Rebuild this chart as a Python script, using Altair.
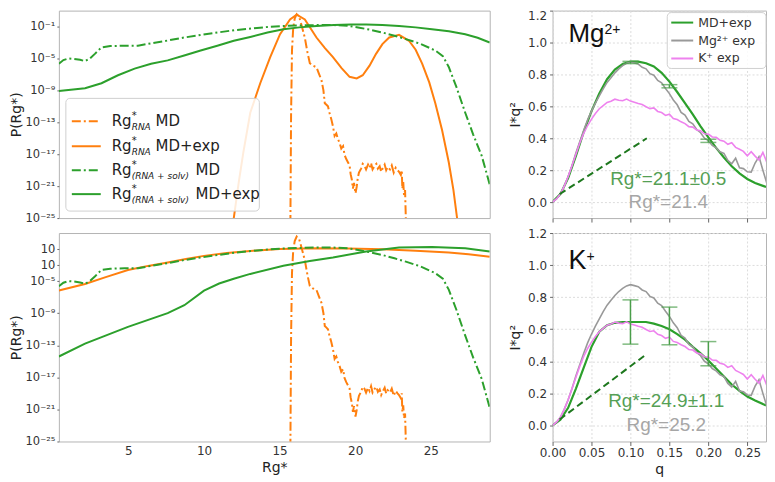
import altair as alt
import pandas as pd

# ---------------- Left panels: P(Rg*) (values stored as log10 P) ----------------
# MD only (same in both panels)
rna_md_x = [15.70, 15.76, 15.82, 15.9, 16.0, 16.13, 16.3, 16.45, 16.67, 16.85, 17.0, 17.2, 17.44, 17.6,
            17.77, 17.9, 17.99, 18.1, 18.2, 18.3, 18.42, 18.53, 18.64, 18.75, 18.86, 18.97, 19.08, 19.2,
            19.3, 19.41, 19.52, 19.63, 19.7, 19.78, 19.85, 19.92, 20.02, 20.1, 20.17, 20.25, 20.39, 20.5,
            20.61, 20.72, 20.85, 20.95, 21.05, 21.15, 21.3, 21.4, 21.5, 21.62, 21.72, 21.81, 21.95, 22.05,
            22.15, 22.3, 22.42, 22.55, 22.68, 22.8, 22.9, 23.02, 23.08, 23.12, 23.18, 23.23, 23.3, 23.35, 23.42]
rna_md_log = [-30, -12, -4, -1.2, 0.0, 0.55, 0.2, -0.8, -2.4, -4.3, -5.6, -5.9, -6.1, -6.9, -7.7, -9.0,
              -10.6, -10.8, -11.0, -11.8, -12.6, -13.5, -14.7, -14.4, -15.1, -15.6, -16.3, -16.0, -17.1,
              -17.6, -18.0, -18.4, -19.5, -20.2, -21.3, -20.6, -21.9, -21.1, -20.0, -19.3, -18.8, -18.2,
              -18.4, -18.9, -18.3, -18.7, -18.1, -18.9, -18.4, -18.2, -18.8, -18.5, -19.2, -18.8, -18.3,
              -19.0, -18.6, -18.9, -18.4, -19.3, -18.7, -19.0, -19.2, -19.6, -19.0, -21.3, -20.5, -22.1,
              -21.5, -25, -30]
solv_md_x = [0.4, 0.7, 1.04, 1.4, 1.8, 2.13, 2.45, 2.78, 3.22, 3.8, 4.75, 5.63, 6.5, 7.6, 8.69, 9.8,
             10.88, 12.0, 13.28, 14.2, 15.25, 16.5, 17.5, 18.53, 19.5, 20.28, 21.0, 21.81, 22.6, 23.35,
             24.3, 25.3, 25.8, 26.19, 26.7, 27.28, 27.8, 28.37, 28.9]
solv_md_log = [-5.65, -5.2, -5.0, -5.05, -5.16, -5.33, -5.0, -4.42, -3.6, -3.45, -3.4, -3.4, -3.1, -2.75,
               -2.37, -2.05, -1.75, -1.45, -1.22, -1.05, -0.93, -0.85, -0.81, -0.81, -0.9, -1.14, -1.4,
               -1.75, -2.15, -2.57, -3.15, -4.0, -4.7, -6.06, -8.6, -11.8, -14.5, -17.2, -20.8]
# MD+exp, Mg2+ (top)
rna_mg_x = [11.97, 12.3, 12.6, 13.06, 13.72, 14.38, 15.03, 15.69, 16.13, 16.67, 17.44, 18.0, 18.53, 19.1,
            19.63, 20.1, 20.5, 20.95, 21.38, 21.8, 22.25, 22.9, 23.56, 24.0, 24.43, 24.9, 25.3, 25.75,
            26.19, 26.5, 26.74]
rna_mg_log = [-25, -20.5, -16.8, -11.8, -8.1, -4.83, -1.96, -0.1, 0.5, -0.1, -2.37, -3.7, -4.83, -6.2,
              -7.3, -7.5, -7.1, -5.9, -4.42, -3.2, -2.37, -2.04, -2.78, -3.9, -5.65, -8.0, -10.6, -14.0,
              -18.0, -21.5, -25]
solv_mg_x = [0.4, 2.13, 3.22, 4.31, 5.41, 6.5, 7.6, 8.69, 9.78, 10.88, 11.97, 13.06, 14.2, 15.25, 16.3,
             17.44, 18.6, 19.7, 20.72, 21.8, 22.9, 24.0, 25.08, 26.2, 27.28, 28.1, 28.9]
solv_mg_log = [-9.07, -8.73, -8.1, -7.1, -6.27, -5.65, -5.24, -4.63, -4.0, -3.4, -2.78, -2.3, -1.75, -1.34,
               -1.1, -0.93, -0.8, -0.74, -0.73, -0.8, -0.93, -1.1, -1.34, -1.6, -1.96, -2.4, -3.0]
# MD+exp, K+ (bottom)
rna_k_x = [0.4, 2.13, 3.5, 4.97, 6.3, 7.6, 8.8, 10.0, 11.5, 13.06, 15.0, 17.44, 19.5, 21.81, 24.0, 26.19,
           27.5, 28.9]
rna_k_log = [-6.18, -5.35, -4.5, -3.62, -3.1, -2.67, -2.25, -1.85, -1.5, -1.23, -1.0, -0.9, -0.93, -1.02,
             -1.2, -1.44, -1.65, -1.95]
solv_k_x = [0.4, 2.13, 4.97, 7.6, 8.7, 10.0, 11.0, 11.97, 13.06, 15.25, 17.0, 18.53, 20.72, 22.9, 25.08,
            27.28, 28.9]
solv_k_log = [-14.4, -12.8, -10.7, -9.0, -8.0, -6.18, -5.3, -4.7, -4.1, -3.08, -2.5, -2.05, -1.3, -0.82,
              -0.73, -0.9, -1.3]

# ---------------- Right panels: Kratky plots ----------------
exp_q = [0.0, 0.005, 0.01, 0.015, 0.02, 0.025, 0.03, 0.035, 0.04, 0.045, 0.05, 0.055, 0.06, 0.065, 0.07,
         0.075, 0.08, 0.085, 0.09, 0.095, 0.1, 0.105, 0.11, 0.115, 0.12, 0.125, 0.13, 0.135, 0.14, 0.145,
         0.15, 0.155, 0.16, 0.165, 0.17, 0.175, 0.18, 0.185, 0.19, 0.195, 0.2, 0.205, 0.21, 0.215, 0.22,
         0.225, 0.23, 0.235, 0.24, 0.245, 0.25, 0.255, 0.26, 0.265, 0.27, 0.275]
mg_exp = [0.0, 0.02, 0.05, 0.1, 0.16, 0.23, 0.31, 0.38, 0.45, 0.515, 0.57, 0.62, 0.665, 0.71, 0.75, 0.78,
          0.81, 0.835, 0.855, 0.87, 0.878, 0.872, 0.865, 0.845, 0.835, 0.805, 0.795, 0.762, 0.748, 0.712,
          0.68, 0.64, 0.61, 0.562, 0.545, 0.505, 0.49, 0.455, 0.435, 0.4, 0.385, 0.355, 0.34, 0.315, 0.305,
          0.262, 0.24, 0.275, 0.215, 0.21, 0.19, 0.188, 0.245, 0.285, 0.2, 0.12]
k_exp = [0.0, 0.02, 0.05, 0.1, 0.16, 0.23, 0.3, 0.37, 0.43, 0.48, 0.52, 0.555, 0.585, 0.605, 0.625, 0.632,
         0.645, 0.638, 0.635, 0.646, 0.633, 0.626, 0.618, 0.612, 0.598, 0.586, 0.59, 0.568, 0.561, 0.543,
         0.551, 0.524, 0.517, 0.503, 0.492, 0.473, 0.47, 0.452, 0.447, 0.428, 0.426, 0.408, 0.406, 0.388,
         0.382, 0.362, 0.372, 0.343, 0.331, 0.318, 0.29, 0.316, 0.288, 0.264, 0.312, 0.25]
fit_q = [0.0, 0.01, 0.02, 0.03, 0.04, 0.05, 0.06, 0.07, 0.08, 0.09, 0.1, 0.11, 0.12, 0.13, 0.14, 0.15,
         0.16, 0.17, 0.18, 0.19, 0.2, 0.21, 0.22, 0.23, 0.24, 0.25, 0.26, 0.274]
mg_fit = [0.0, 0.05, 0.15, 0.29, 0.44, 0.57, 0.68, 0.77, 0.83, 0.865, 0.88, 0.88, 0.87, 0.85, 0.81, 0.755,
          0.69, 0.62, 0.55, 0.475, 0.405, 0.34, 0.28, 0.225, 0.18, 0.145, 0.12, 0.095]
k_fit = [0.0, 0.035, 0.11, 0.23, 0.36, 0.49, 0.585, 0.625, 0.64, 0.645, 0.645, 0.645, 0.645, 0.635, 0.62,
         0.6, 0.57, 0.535, 0.49, 0.45, 0.405, 0.355, 0.305, 0.255, 0.215, 0.18, 0.155, 0.125]
guinier_q = [0.009, 0.121]
mg_guinier = [0.05, 0.40]
k_guinier = [0.037, 0.446]
err_q = [0.10, 0.15, 0.20]
mg_err_lo = [0.868, 0.716, 0.374]
mg_err_hi = [0.882, 0.736, 0.394]
k_err_lo = [0.507, 0.503, 0.372]
k_err_hi = [0.783, 0.738, 0.523]

ORANGE = "#ff7f0e"
GREEN = "#2ca02c"
DKGREEN = "#1e781e"
GRAY = "#999999"
VIOLET = "#ee82ee"
DASHDOT = [9, 3, 2, 3]

W_L, W_R, H_T, H_B = 432, 214, 208, 209

one = pd.DataFrame({"k": [0]})


def sup(e):
    table = str.maketrans("-0123456789", "⁻⁰¹²³⁴⁵⁶⁷⁸⁹")
    return "10" + str(e).translate(table)


def label_expr(mapping):
    parts = [f"round(log(datum.value)/LN10) == {e} ? '{s}'" for e, s in mapping.items()]
    return " : ".join(parts) + " : ''"


def left_panel(series, bottom):
    exps = [-1, -5, -9, -13, -17, -21, -25]
    mapping = {e: sup(e) for e in exps}
    vals = [10.0 ** e for e in exps]
    if bottom:
        mapping[-1] = "10"
        mapping[-3] = "10"
        vals = [1e-1, 1e-3] + vals[1:]
    yaxis = alt.Axis(values=vals, labelExpr=label_expr(mapping), title="P(Rg*)", grid=False,
                     tickSize=2, labelPadding=2, titlePadding=2, labelFontSize=11.5)
    if bottom:
        xaxis = alt.Axis(values=[5, 10, 15, 20, 25], format="d", title="Rg*", grid=False, ticks=False,
                         labelPadding=4, titlePadding=4)
    else:
        xaxis = alt.Axis(labels=False, ticks=False, title=None, grid=False)
    xs = alt.Scale(domain=[0.4, 28.9], nice=False, zero=False)
    ys = alt.Scale(type="log", domain=[1e-25, 10], nice=False)
    layers = []
    for xv, lv, color, dash in series:
        df = pd.DataFrame({"x": xv, "p": [10.0 ** v for v in lv]})
        props = dict(color=color, strokeWidth=2, clip=True)
        if dash:
            props["strokeDash"] = DASHDOT
        layers.append(alt.Chart(df).mark_line(**props).encode(
            x=alt.X("x:Q", scale=xs, axis=xaxis), y=alt.Y("p:Q", scale=ys, axis=yaxis)))
    return layers


top_left_layers = left_panel([
    (rna_md_x, rna_md_log, ORANGE, True),
    (rna_mg_x, rna_mg_log, ORANGE, False),
    (solv_md_x, solv_md_log, GREEN, True),
    (solv_mg_x, solv_mg_log, GREEN, False)], False)
bottom_left_layers = left_panel([
    (rna_md_x, rna_md_log, ORANGE, True),
    (rna_k_x, rna_k_log, ORANGE, False),
    (solv_md_x, solv_md_log, GREEN, True),
    (solv_k_x, solv_k_log, GREEN, False)], True)

# legend for the left panel (drawn by hand to get sub/superscripts)
leg = [alt.Chart(one).mark_rect(fill="white", fillOpacity=0.85, stroke="#d0d0d0", cornerRadius=4).encode(
    x=alt.value(7), x2=alt.value(201), y=alt.value(88), y2=alt.value(201))]
rows = [(111, ORANGE, True, "RNA", "MD", 97), (136, ORANGE, False, "RNA", "MD+exp", 97),
        (160, GREEN, True, "(RNA + solv)", "MD", 137), (184, GREEN, False, "(RNA + solv)", "MD+exp", 137)]
for yy, color, dash, subtxt, tail, tx in rows:
    props = dict(color=color, strokeWidth=2)
    if dash:
        props["strokeDash"] = DASHDOT
    leg.append(alt.Chart(one).mark_rule(**props).encode(
        x=alt.value(13), x2=alt.value(42), y=alt.value(yy)))
    leg.append(alt.Chart(one).mark_text(text="Rg", align="left", baseline="middle", font="DejaVu Sans",
                                        fontSize=15, color="#222").encode(x=alt.value(53), y=alt.value(yy)))
    leg.append(alt.Chart(one).mark_text(text="*", align="left", baseline="middle", font="DejaVu Sans",
                                        fontSize=10, color="#222").encode(x=alt.value(73), y=alt.value(yy - 5)))
    leg.append(alt.Chart(one).mark_text(text=subtxt, align="left", baseline="middle", font="DejaVu Sans",
                                        fontSize=9, fontStyle="italic", color="#222").encode(
        x=alt.value(73), y=alt.value(yy + 6)))
    leg.append(alt.Chart(one).mark_text(text=tail, align="left", baseline="middle", font="DejaVu Sans",
                                        fontSize=15, color="#222").encode(x=alt.value(tx), y=alt.value(yy)))

top_left = alt.layer(*top_left_layers, *leg).properties(width=W_L, height=H_T)
bottom_left = alt.layer(*bottom_left_layers).properties(width=W_L, height=H_B)


def right_panel(fit, guinier, err_lo, err_hi, bottom, top_flush):
    xs = alt.Scale(domain=[0, 0.274], nice=False, zero=False)
    ys = alt.Scale(domain=[-0.1, 1.2], nice=False, zero=False)
    grid = dict(grid=True, gridDash=[2, 2], gridColor="#dcdcdc", gridWidth=1)
    if bottom:
        xaxis = alt.Axis(values=[0, 0.05, 0.1, 0.15, 0.2, 0.25], format=".2f", title="q", tickSize=4,
                         labelPadding=2, titlePadding=4, labelOverlap=False, labelFlush=False, **grid)
    else:
        xaxis = alt.Axis(values=[0, 0.05, 0.1, 0.15, 0.2, 0.25], labels=False, title=None, tickSize=4, **grid)
    yaxis = alt.Axis(values=[0, 0.2, 0.4, 0.6, 0.8, 1.0, 1.2], format=".1f", title="I*q²", tickSize=3,
                     labelPadding=3, titlePadding=5, labelFlush=top_flush, labelOverlap=False, **grid)
    X = lambda f: alt.X(f, scale=xs, axis=xaxis)
    Y = lambda f: alt.Y(f, scale=ys, axis=yaxis)
    layers = [
        alt.Chart(pd.DataFrame({"q": fit_q, "v": fit})).mark_line(color=GREEN, strokeWidth=2.2, clip=True)
        .encode(x=X("q:Q"), y=Y("v:Q")),
        alt.Chart(pd.DataFrame({"q": exp_q, "v": mg_exp})).mark_line(color=GRAY, strokeWidth=1.6, clip=True)
        .encode(x=X("q:Q"), y=Y("v:Q")),
        alt.Chart(pd.DataFrame({"q": exp_q, "v": k_exp})).mark_line(color=VIOLET, strokeWidth=1.6, clip=True)
        .encode(x=X("q:Q"), y=Y("v:Q")),
        alt.Chart(pd.DataFrame({"q": guinier_q, "v": guinier})).mark_line(
            color=DKGREEN, strokeWidth=2, strokeDash=[7, 4], clip=True).encode(x=X("q:Q"), y=Y("v:Q")),
    ]
    edf = pd.DataFrame({"q": err_q, "lo": err_lo, "hi": err_hi})
    layers.append(alt.Chart(edf).mark_rule(color="#4a9e4a", strokeWidth=1.5).encode(
        x=X("q:Q"), y=Y("lo:Q"), y2="hi:Q"))
    layers.append(alt.Chart(edf).mark_tick(color="#4a9e4a", orient="horizontal", size=16, thickness=1.5)
                  .encode(x=X("q:Q"), y=Y("lo:Q")))
    layers.append(alt.Chart(edf).mark_tick(color="#4a9e4a", orient="horizontal", size=16, thickness=1.5)
                  .encode(x=X("q:Q"), y=Y("hi:Q")))
    return layers


tr = right_panel(mg_fit, mg_guinier, mg_err_lo, mg_err_hi, False, True)
br = right_panel(k_fit, k_guinier, k_err_lo, k_err_hi, True, False)


def txt(t, x, y, size, color, font="Liberation Sans", align="left", baseline="alphabetic", style="normal"):
    return alt.Chart(one).mark_text(text=t, align=align, baseline=baseline, font=font, fontSize=size,
                                    color=color, fontStyle=style).encode(x=alt.value(x), y=alt.value(y))


tr_ann = [
    txt("Mg", 16, 31, 26, "#111"),
    txt("2+", 52, 19, 14, "#111", baseline="middle"),
    txt("Rg*=21.1±0.5", 116, 169, 19, "#55a055", align="center", baseline="middle"),
    txt("Rg*=21.4", 116, 192, 19, "#a6a6a6", align="center", baseline="middle"),
    alt.Chart(one).mark_rect(fill="white", fillOpacity=0.85, stroke="#d0d0d0", cornerRadius=4).encode(
        x=alt.value(115), x2=alt.value(214), y=alt.value(2), y2=alt.value(58)),
]
for yy, color, label in [(12, GREEN, "MD+exp"), (30, GRAY, "Mg²⁺ exp"), (48, VIOLET, "K⁺ exp")]:
    tr_ann.append(alt.Chart(one).mark_rule(color=color, strokeWidth=2).encode(
        x=alt.value(119), x2=alt.value(141), y=alt.value(yy)))
    tr_ann.append(txt(label, 146, yy, 12.5, "#333", font="DejaVu Sans", baseline="middle"))

br_ann = [
    txt("K", 16, 36, 27, "#111"),
    txt("+", 34, 24, 14, "#111", baseline="middle"),
    txt("Rg*=24.9±1.1", 114, 168, 19, "#55a055", align="center", baseline="middle"),
    txt("Rg*=25.2", 114, 192, 19, "#a6a6a6", align="center", baseline="middle"),
]

top_right = alt.layer(*tr, *tr_ann).properties(width=W_R, height=H_T)
bottom_right = alt.layer(*br, *br_ann).properties(width=W_R, height=H_B)

chart = alt.concat(top_left, top_right, bottom_left, bottom_right, columns=2,
                   spacing={"row": 15, "column": 63}, bounds="flush").properties(
    padding={"left": 0, "top": 0, "right": 0, "bottom": 0}
).configure_view(stroke="#b4b4b4", strokeWidth=1).configure_axis(
    labelFont="DejaVu Sans", labelFontSize=12, labelColor="#333", titleFont="DejaVu Sans",
    titleFontSize=14, titleFontWeight="normal", titleColor="#222", domain=False, tickColor="#666"
)

chart.save("out.html", embed_options={"renderer": "svg", "actions": False})
